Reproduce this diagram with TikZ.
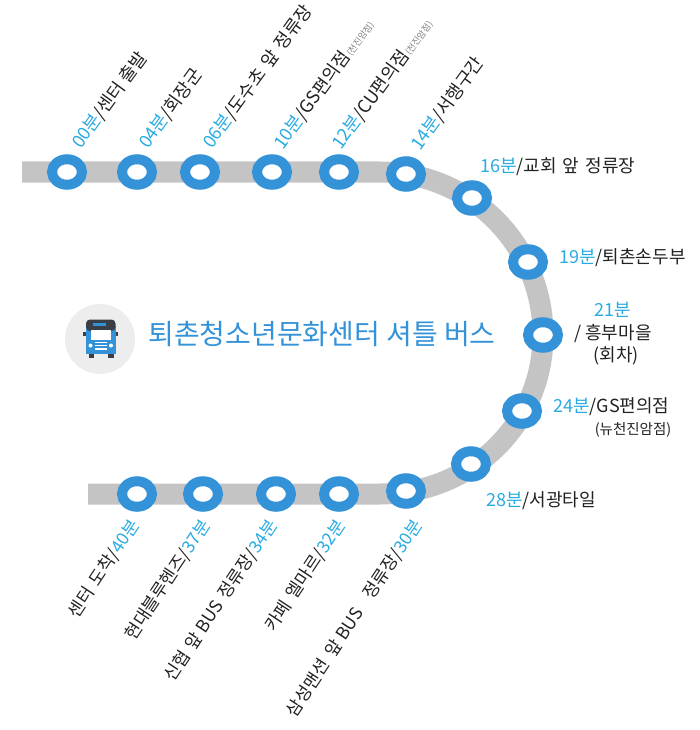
\documentclass[tikz,border=0pt]{standalone}
\usepackage{fontspec}
\setmainfont{Noto Sans CJK KR}
\definecolor{ringblue}{HTML}{3492D8}
\definecolor{minblue}{HTML}{29ABE2}
\definecolor{trackgrey}{HTML}{C4C4C4}
\definecolor{ink}{HTML}{222222}
\definecolor{busdark}{HTML}{3A3F47}
\newcommand{\mn}[1]{\textcolor{minblue}{#1}}
\newcommand{\smallnote}[1]{\textcolor{gray}{\fontsize{9}{9}\selectfont #1}}
\tikzset{
  x=1pt,y=-1pt,
  stop/.style={ellipse,draw=ringblue,line width=10pt,fill=white,minimum width=30pt,minimum height=25.5pt,inner sep=0pt},
  toplabel/.style={rotate=54,anchor=base west,font=\fontsize{18}{18}\selectfont,text=ink,inner sep=0pt},
  botlabel/.style={rotate=56.5,anchor=base east,font=\fontsize{17.5}{18}\selectfont,text=ink,inner sep=0pt},
  sidelabel/.style={anchor=west,font=\fontsize{18}{18}\selectfont,text=ink,inner sep=0pt},
  track/.style={draw=trackgrey,line width=21pt}
}
\usetikzlibrary{shapes.geometric}
\begin{document}
\begin{tikzpicture}
\useasboundingbox (0,0) rectangle (700,730);
\coordinate (tstart) at (22,172);
\coordinate (tend) at (88,494);
\coordinate (s1) at (67,172);
\coordinate (s2) at (137,172);
\coordinate (s3) at (200,172);
\coordinate (s4) at (272,172);
\coordinate (s5) at (339,172);
\coordinate (s6) at (406,174);
\coordinate (s7) at (472,198);
\coordinate (s8) at (528,262);
\coordinate (s9) at (543,335);
\coordinate (s10) at (522,411);
\coordinate (s11) at (471,464);
\coordinate (s12) at (406,491);
\coordinate (s13) at (339,494);
\coordinate (s14) at (276,494);
\coordinate (s15) at (203,494);
\coordinate (s16) at (137,494);
\path[track] (tstart) -- (s5) -- (380,172) .. controls (470,172) and (543,245) .. (s9)
  .. controls (543,425) and (470,494) .. (380,494) -- (tend);
\foreach \n in {1,...,16}{\node[stop] (st\n) at (s\n) {};}
% top labels
\node[toplabel] (l1) at (81,150) {\mn{00분}/센터 출발};
\node[toplabel] (l2) at (148,150) {\mn{04분}/회장군};
\node[toplabel] (l3) at (212,150) {\mn{06분}/도수초\hspace{2pt} 앞\hspace{2pt} 정류장};
\node[toplabel] (l4) at (283,151) {\mn{10분}/GS편의점\smallnote{(천진암점)}};
\node[toplabel] (l5) at (341,151) {\mn{12분}/CU편의점\smallnote{(천진암점)}};
\node[toplabel] (l6) at (420,152) {\mn{14분}/서행구간};
% side labels
\node[sidelabel] (l7) at (480,167) {\mn{16분}/교회\hspace{2pt} 앞\hspace{2pt} 정류장};
\node[sidelabel] (l8) at (559,258) {\mn{19분}/퇴촌손두부};
\node[sidelabel,anchor=center] (l9a) at (613,310) {\mn{21분}};
\node[sidelabel,anchor=center] (l9b) at (613,334) {/ 흥부마을};
\node[sidelabel,anchor=center] (l9c) at (616,356) {(회차)};
\node[sidelabel] (l10) at (553,407) {\mn{24분}/GS편의점};
\node[sidelabel,anchor=center,font=\fontsize{14.5}{15}\selectfont] (l10b) at (633,430) {(뉴천진암점)};
\node[sidelabel] (l11) at (486,501) {\mn{28분}/서광타일};
% bottom labels
\node[botlabel] (l12) at (140,525) {센터\hspace{2pt} 도착/\mn{40분}};
\node[botlabel] (l13) at (211,525) {현대블루헨즈/\mn{37분}};
\node[botlabel] (l14) at (278,525) {신협\hspace{2pt} 앞 BUS\hspace{2pt} 정류장/\mn{34분}};
\node[botlabel] (l15) at (346,525) {카페\hspace{2pt} 엘마르/\mn{32분}};
\node[botlabel] (l16) at (423,525) {삼성맨션\hspace{3pt} 앞 BUS\hspace{11pt} 정류장/\mn{30분}};
% title
\node[anchor=center,text=ringblue,font=\fontsize{28}{30}\selectfont,inner sep=0pt] (title) at (322,334) {퇴촌청소년문화센터 셔틀 버스};
% bus icon
\node[circle,fill=black!7,minimum size=70pt,inner sep=0pt] (badge) at (100,339) {};
\fill[busdark] (88.5,350) rectangle (93.5,357.5);
\fill[busdark] (108,350) rectangle (113.5,357.5);
\fill[busdark] (83,332) rectangle (87,336);
\fill[busdark] (115,332) rectangle (118,336);
\fill[ringblue] (86,326) rectangle (115.5,353.5);
\fill[busdark,rounded corners=4pt] (86,319.5) rectangle (115.5,331);
\fill[ringblue] (92.5,322.5) rectangle (106,325.5);
\fill[white] (90.5,330) rectangle (110.5,340);
\fill[white] (90.5,345.5) circle (2);
\fill[white] (111,345.5) circle (2);
\fill[white] (94.5,341.5) rectangle (106.5,343);
\fill[white] (94.5,344.8) rectangle (106.5,346.3);
\fill[white] (94.5,348) rectangle (106.5,349.5);
\end{tikzpicture}
\end{document}
